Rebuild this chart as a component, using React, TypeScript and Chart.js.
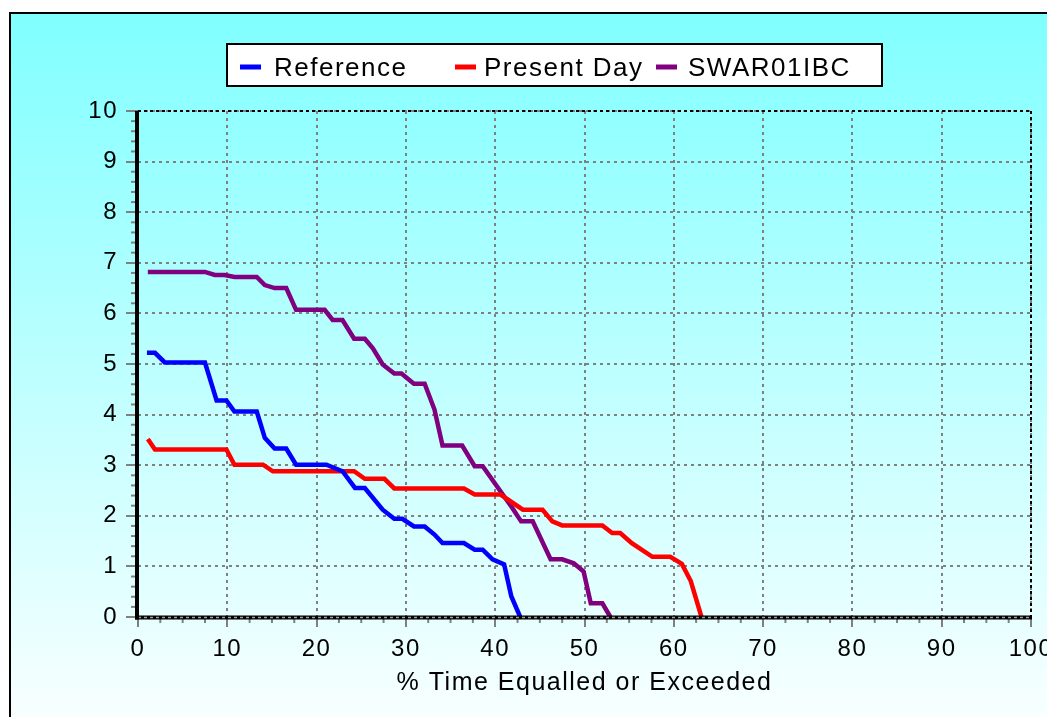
import React, { useEffect, useRef } from "react";
import { Chart, registerables } from "chart.js";

Chart.register(...registerables);

// ---- data ----
const seriesLabels = ["Reference", "Present Day", "SWAR01IBC"];
const seriesColors = ["#0000FF", "#FF0000", "#800080"];

const referenceX = [1.0, 1.9, 3.0, 7.5, 8.8, 9.9, 10.8, 13.3, 14.2, 15.3, 16.6, 17.7, 21.1, 22.9, 24.3, 25.4, 27.4, 28.7, 29.6, 30.9, 32.1, 33.2, 34.1, 36.5, 37.7, 38.6, 39.7, 41.0, 41.8, 42.8];
const referenceY = [5.22, 5.22, 5.03, 5.03, 4.28, 4.28, 4.06, 4.06, 3.54, 3.33, 3.33, 3.01, 3.01, 2.88, 2.55, 2.55, 2.12, 1.94, 1.94, 1.79, 1.79, 1.63, 1.46, 1.46, 1.33, 1.33, 1.14, 1.04, 0.41, 0.0];

const presentX = [1.1, 1.9, 9.9, 10.8, 14.0, 15.1, 24.2, 25.4, 27.6, 28.7, 36.5, 37.7, 40.6, 43.1, 45.3, 46.4, 47.5, 52.0, 53.1, 54.0, 55.3, 57.6, 59.6, 60.9, 61.9, 63.1];
const presentY = [3.52, 3.31, 3.31, 3.01, 3.01, 2.88, 2.88, 2.73, 2.73, 2.54, 2.54, 2.42, 2.42, 2.12, 2.12, 1.89, 1.81, 1.81, 1.66, 1.66, 1.46, 1.19, 1.19, 1.05, 0.71, 0.0];

const swarX = [1.1, 7.5, 8.6, 9.7, 10.8, 13.3, 14.2, 15.3, 16.6, 17.7, 20.9, 21.8, 22.9, 24.2, 25.4, 26.3, 27.4, 28.7, 29.5, 30.9, 32.1, 33.2, 34.1, 36.3, 37.7, 38.6, 41.9, 42.9, 44.2, 46.2, 47.5, 48.8, 49.9, 50.7, 52.0, 52.9];
const swarY = [6.82, 6.82, 6.76, 6.76, 6.72, 6.72, 6.56, 6.50, 6.50, 6.07, 6.07, 5.87, 5.87, 5.50, 5.50, 5.31, 4.99, 4.81, 4.81, 4.61, 4.61, 4.10, 3.39, 3.39, 2.98, 2.98, 2.16, 1.89, 1.89, 1.14, 1.14, 1.06, 0.90, 0.27, 0.27, 0.0];

const xTitle = "% Time Equalled or Exceeded";
const xMin = 0, xMax = 100, xStep = 10, xMinorStep = 2.5;
const yMin = 0, yMax = 10, yStep = 1, yMinorStep = 0.2;

const FONT = "'Liberation Sans', Arial, sans-serif";

function toPoints(xs: number[], ys: number[]) {
  return xs.map((x, i) => ({ x, y: ys[i] }));
}

const backgroundPlugin = {
  id: "bgPlugin",
  beforeDraw(chart: any) {
    const ctx = chart.ctx;
    (ctx as any).letterSpacing = "1.5px";
    ctx.save();
    ctx.fillStyle = "#ffffff";
    ctx.fillRect(0, 0, chart.width, chart.height);
    const g = ctx.createLinearGradient(0, 13, 0, chart.height);
    g.addColorStop(0, "#80FFFF");
    g.addColorStop(1, "#F8FFFF");
    ctx.fillStyle = g;
    ctx.fillRect(10, 13, chart.width + 20, chart.height + 20);
    ctx.strokeStyle = "#000";
    ctx.lineWidth = 2;
    ctx.strokeRect(10, 13, chart.width + 20, chart.height + 20);
    ctx.restore();
  },
};

const framePlugin = {
  id: "framePlugin",
  afterDatasetsDraw(chart: any) {
    const ctx = chart.ctx;
    const { left, right, top, bottom } = chart.chartArea;
    const xs = chart.scales.x;
    const ys = chart.scales.y;
    ctx.save();
    const line = (x1: number, y1: number, x2: number, y2: number) => {
      ctx.beginPath();
      ctx.moveTo(x1, y1);
      ctx.lineTo(x2, y2);
      ctx.stroke();
    };
    // minor ticks
    ctx.strokeStyle = "#808080";
    ctx.lineWidth = 2;
    ctx.setLineDash([]);
    for (let v = xMin + xMinorStep; v < xMax; v += xMinorStep) {
      if (Math.abs(v / xStep - Math.round(v / xStep)) < 1e-6) continue;
      const px = xs.getPixelForValue(v);
      line(px, bottom, px, bottom + 6);
    }
    for (let v = yMin + yMinorStep; v < yMax; v += yMinorStep) {
      if (Math.abs(v / yStep - Math.round(v / yStep)) < 1e-6) continue;
      const py = ys.getPixelForValue(v);
      line(left - 7, py, left, py);
    }
    // top & right dotted frame
    ctx.strokeStyle = "#000";
    ctx.lineWidth = 2;
    ctx.setLineDash([3, 3]);
    line(left, top, right, top);
    line(right, top, right, bottom);
    // bottom axis
    ctx.setLineDash([]);
    ctx.lineWidth = 4;
    line(left - 3, bottom + 0.5, right + 1, bottom + 0.5);
    ctx.strokeStyle = "#a0a0a0";
    ctx.lineWidth = 1.5;
    ctx.setLineDash([3, 3]);
    line(left, bottom + 0.5, right, bottom + 0.5);
    // left axis
    ctx.strokeStyle = "#000";
    ctx.setLineDash([]);
    ctx.lineWidth = 4;
    line(left - 1, top, left - 1, bottom + 2.5);
    ctx.restore();
  },
};

const legendPlugin = {
  id: "boxLegend",
  afterDraw(chart: any) {
    const ctx = chart.ctx;
    ctx.save();
    (ctx as any).letterSpacing = "1.5px";
    const boxL = 227, boxT = 44, boxW = 655, boxH = 42;
    ctx.fillStyle = "#ffffff";
    ctx.fillRect(boxL, boxT, boxW, boxH);
    ctx.strokeStyle = "#000";
    ctx.lineWidth = 2;
    ctx.strokeRect(boxL, boxT, boxW, boxH);
    const markerX = [240, 455, 656];
    const textX = [274, 484, 688];
    const midY = 67;
    ctx.font = `26px ${FONT}`;
    ctx.textBaseline = "alphabetic";
    ctx.textAlign = "left";
    chart.data.datasets.forEach((ds: any, i: number) => {
      ctx.strokeStyle = ds.borderColor;
      ctx.lineWidth = 5;
      ctx.beginPath();
      ctx.moveTo(markerX[i], midY);
      ctx.lineTo(markerX[i] + 21, midY);
      ctx.stroke();
      ctx.fillStyle = "#000";
      ctx.fillText(ds.label, textX[i], 76);
    });
    ctx.restore();
  },
};

export default function App() {
  const canvasRef = useRef<HTMLCanvasElement | null>(null);

  useEffect(() => {
    if (!canvasRef.current) return;
    const chart = new Chart(canvasRef.current, {
      type: "line",
      data: {
        datasets: [
          { label: seriesLabels[0], data: toPoints(referenceX, referenceY), borderColor: seriesColors[0] },
          { label: seriesLabels[1], data: toPoints(presentX, presentY), borderColor: seriesColors[1] },
          { label: seriesLabels[2], data: toPoints(swarX, swarY), borderColor: seriesColors[2] },
        ].map((d) => ({
          ...d,
          backgroundColor: d.borderColor,
          borderWidth: 4.5,
          pointRadius: 0,
          pointHoverRadius: 0,
          tension: 0,
          fill: false,
        })),
      },
      options: {
        responsive: false,
        animation: false,
        events: [],
        layout: { padding: { top: 111, right: 16, bottom: 0, left: 0 } },
        plugins: {
          legend: { display: false },
          title: { display: false },
          tooltip: { enabled: false },
        },
        scales: {
          x: {
            type: "linear",
            min: xMin,
            max: xMax,
            ticks: {
              stepSize: xStep,
              color: "#000",
              padding: 8,
              maxRotation: 0,
              autoSkip: false,
              font: { family: FONT, size: 24 },
            },
            grid: {
              color: "#808080",
              lineWidth: 2,
              tickLength: 10,
              tickColor: "#808080",
              tickWidth: 2,
              tickBorderDash: [],
            },
            border: { display: false, dash: [3, 4] },
            title: {
              display: true,
              text: xTitle,
              color: "#000",
              font: { family: FONT, size: 25 },
              padding: { top: 0, bottom: 19 },
            },
            afterFit(scale: any) {
              scale.height = 100;
              scale.paddingLeft = 0;
              scale.paddingRight = 0;
            },
          },
          y: {
            type: "linear",
            min: yMin,
            max: yMax,
            ticks: {
              stepSize: yStep,
              color: "#000",
              padding: 8,
              font: { family: FONT, size: 24 },
            },
            grid: {
              color: "#808080",
              lineWidth: 2,
              tickLength: 12,
              tickColor: "#808080",
              tickWidth: 2,
              tickBorderDash: [],
            },
            border: { display: false, dash: [3, 4] },
            afterFit(scale: any) {
              scale.width = 138;
              scale.paddingTop = 0;
              scale.paddingBottom = 0;
            },
          },
        },
      },
      plugins: [backgroundPlugin, framePlugin, legendPlugin],
    } as any);
    return () => chart.destroy();
  }, []);

  return (
    <div style={{ position: "fixed", left: 0, top: 0, width: 1047, height: 717 }}>
      <canvas ref={canvasRef} width={1047} height={717} style={{ display: "block" }} />
    </div>
  );
}
